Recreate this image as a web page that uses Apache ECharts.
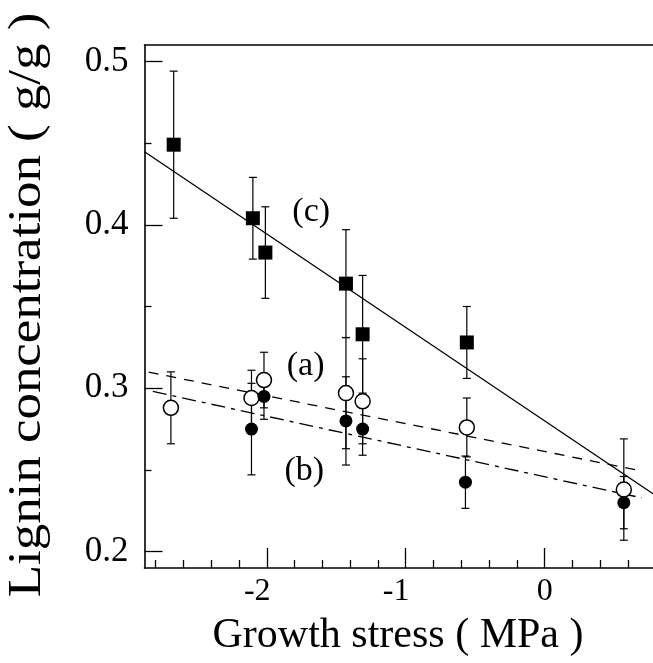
<!DOCTYPE html>
<html>
<head>
<meta charset="utf-8">
<script src="https://cdn.jsdelivr.net/npm/echarts@6/dist/echarts.min.js"></script>
<style>
  html, body { margin: 0; padding: 0; background: #fff; }
  #chart { width: 653px; height: 663px; }
</style>
</head>
<body>
<div id="chart"></div>
<script>
// (c) filled squares
const cX = [-2.67, -2.10, -2.01, -1.43, -1.31, -0.56]
const cY = [0.449, 0.404, 0.383, 0.364, 0.333, 0.328]
const cErr = [0.045, 0.025, 0.028, 0.033, 0.036, 0.022]

// (a) open circles
const aX = [-2.69, -2.11, -2.02, -1.43, -1.31, -0.56, 0.57]
const aY = [0.288, 0.294, 0.305, 0.297, 0.292, 0.276, 0.238]
const aErr = [0.022, 0.017, 0.017, 0.034, 0.026, 0.018, 0.031]

// (b) filled circles
const bX = [-2.11, -2.02, -1.43, -1.31, -0.57, 0.57]
const bY = [0.275, 0.295, 0.280, 0.275, 0.2425, 0.230]
const bErr = [0.028, 0.014, 0.027, 0.016, 0.016, 0.016]

// fitted lines, end points
const cLineX = [-2.88, 0.78]
const cLineY = [0.4447, 0.2354]
const aLineX = [-2.85, 0.68]
const aLineY = [0.3098, 0.2497]
const bLineX = [-2.82, 0.70]
const bLineY = [0.2980, 0.2329]

// curve labels
const labelX = [-1.68, -1.72, -1.73]
const labelY = [0.4075, 0.3136, 0.2494]
const labelText = ['(c)', '(a)', '(b)']

// ticks
const xMajor = [-2, -1, 0]
const xMinor = [-2.8, -2.6, -2.4, -2.2, -1.8, -1.6, -1.4, -1.2, -0.8, -0.6, -0.4, -0.2, 0.2, 0.4, 0.6]
const yMajor = [0.2, 0.3, 0.4, 0.5]
const yMinor = [0.25, 0.35, 0.45]

const xMin = -2.88, xMax = 0.78
const yMin = 0.19, yMax = 0.51
const serif = '"Liberation Serif", "Times New Roman", serif'

const chart = echarts.init(document.getElementById('chart'))

const pairs = (xs, ys) => xs.map((x, i) => [x, ys[i]])

const errorBars = (xs, ys, es) => ({
  type: 'custom',
  z: 2,
  silent: true,
  renderItem: (params, api) => {
    const x = api.value(0)
    const lo = api.coord([x, api.value(2)])
    const hi = api.coord([x, api.value(3)])
    const w = 4
    const st = { stroke: '#000', lineWidth: 1.2 }
    return {
      type: 'group',
      children: [
        { type: 'line', shape: { x1: lo[0], y1: lo[1], x2: hi[0], y2: hi[1] }, style: st },
        { type: 'line', shape: { x1: lo[0] - w, y1: lo[1], x2: lo[0] + w, y2: lo[1] }, style: st },
        { type: 'line', shape: { x1: hi[0] - w, y1: hi[1], x2: hi[0] + w, y2: hi[1] }, style: st },
      ],
    }
  },
  encode: { x: 0, y: [2, 3] },
  data: xs.map((x, i) => [x, ys[i], ys[i] - es[i], ys[i] + es[i]]),
})

const fitLine = (xs, ys, type) => ({
  type: 'line',
  z: 3,
  silent: true,
  symbol: 'none',
  lineStyle: { color: '#000', width: 1.3, type: type },
  data: pairs(xs, ys),
})

const axisLine = { show: true, onZero: false, lineStyle: { color: '#000', width: 1.6 } }
const tickStyle = { color: '#000', width: 1.3 }
const baseX = { type: 'value', min: xMin, max: xMax, splitLine: { show: false } }
const baseY = { type: 'value', min: yMin, max: yMax, splitLine: { show: false } }
const xFont = { fontFamily: serif, fontSize: 32, color: '#000' }

const option = {
  animation: false,
  backgroundColor: '#fff',
  grid: { left: 144.5, top: 45, width: 510, height: 523 },
  xAxis: [
    {
      ...baseX,
      position: 'bottom',
      axisLine: axisLine,
      axisTick: { show: true, inside: true, length: 20, customValues: xMajor, lineStyle: tickStyle },
      axisLabel: {
        ...xFont,
        margin: 8,
        customValues: xMajor,
        // the minus sign hangs left of the tick, as in the print
        formatter: (v) => (v < 0 ? '{neg|' + Math.round(v) + '}' : '{pos|' + Math.round(v) + '}'),
        rich: {
          neg: { ...xFont, padding: [0, 19, 0, 0] },
          pos: { ...xFont },
        },
      },
    },
    {
      ...baseX,
      position: 'bottom',
      offset: 0,
      axisLine: { show: false, onZero: false },
      axisTick: { show: true, inside: true, length: 8, customValues: xMinor, lineStyle: tickStyle },
      axisLabel: { show: false },
    },
    {
      ...baseX,
      position: 'top',
      axisLine: axisLine,
      axisTick: { show: false },
      axisLabel: { show: false },
    },
  ],
  yAxis: [
    {
      ...baseY,
      position: 'left',
      axisLine: axisLine,
      axisTick: { show: true, inside: true, length: 18, customValues: yMajor, lineStyle: tickStyle },
      axisLabel: {
        color: '#000',
        fontFamily: serif,
        fontSize: 35,
        margin: 16,
        customValues: yMajor,
        formatter: (v) => v.toFixed(1),
      },
    },
    {
      ...baseY,
      position: 'left',
      offset: 0,
      axisLine: { show: false, onZero: false },
      axisTick: { show: true, inside: true, length: 7, customValues: yMinor, lineStyle: tickStyle },
      axisLabel: { show: false },
    },
  ],
  graphic: [
    {
      type: 'text',
      x: 28,
      y: 305,
      rotation: Math.PI / 2,
      scaleX: 1.15,
      style: {
        text: 'Lignin concentration ( g/g )',
        font: '46px ' + serif,
        fill: '#000',
        align: 'center',
        verticalAlign: 'middle',
      },
    },
    {
      type: 'text',
      x: 398,
      y: 636,
      style: {
        text: 'Growth stress ( MPa )',
        font: '42px ' + serif,
        fill: '#000',
        align: 'center',
        verticalAlign: 'middle',
      },
    },
  ],
  series: [
    fitLine(cLineX, cLineY, 'solid'),
    fitLine(aLineX, aLineY, [10, 8]),
    fitLine(bLineX, bLineY, [14, 6, 4, 6]),
    errorBars(cX, cY, cErr),
    errorBars(aX, aY, aErr),
    errorBars(bX, bY, bErr),
    {
      type: 'scatter',
      z: 5,
      symbol: 'rect',
      symbolSize: 14,
      itemStyle: { color: '#000', opacity: 1 },
      data: pairs(cX, cY),
    },
    {
      type: 'scatter',
      z: 5,
      symbol: 'circle',
      symbolSize: 15,
      itemStyle: { color: '#fff', borderColor: '#000', borderWidth: 1.5, opacity: 1 },
      data: pairs(aX, aY),
    },
    {
      type: 'scatter',
      z: 6,
      symbol: 'circle',
      symbolSize: 13,
      itemStyle: { color: '#000', opacity: 1 },
      data: pairs(bX, bY),
    },
    {
      type: 'scatter',
      z: 7,
      symbolSize: 0,
      silent: true,
      itemStyle: { opacity: 1 },
      label: {
        show: true,
        position: 'inside',
        color: '#000',
        fontFamily: serif,
        fontSize: 34,
        formatter: (p) => labelText[p.dataIndex],
      },
      data: pairs(labelX, labelY),
    },
  ],
}

chart.setOption(option)
</script>
</body>
</html>
